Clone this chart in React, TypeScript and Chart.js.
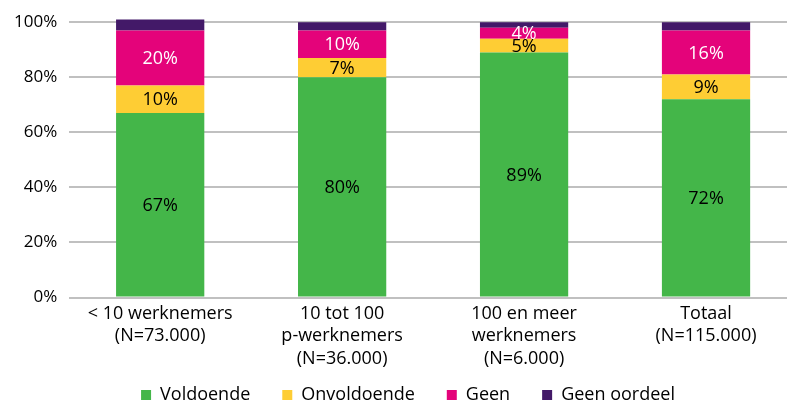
import React, { useEffect, useRef } from "react";
import { Chart, registerables } from "chart.js";

Chart.register(...registerables);

const categories: string[][] = [
  ["< 10 werknemers", "(N=73.000)"],
  ["10 tot 100", "p-werknemers", "(N=36.000)"],
  ["100 en meer", "werknemers", "(N=6.000)"],
  ["Totaal", "(N=115.000)"],
];
const voldoende = [67, 80, 89, 72];
const onvoldoende = [10, 7, 5, 9];
const geen = [20, 10, 4, 16];
const geenOordeel = [4, 3, 2, 3];
const yTicks = [0, 20, 40, 60, 80, 100];

const FONT = "'Open Sans', sans-serif";
const LEGEND_PAD = 32;

const segLabels = {
  id: "segLabels",
  afterInit(chart: any) {
    const lg = chart.legend;
    if (lg && !lg.__patched) {
      const origFit = lg.fit.bind(lg);
      lg.fit = function () {
        origFit();
        this.height -= 32;
      };
      const origDraw = lg.draw.bind(lg);
      lg.draw = function () {
        const t = this.top;
        const l = this.left;
        this.top = t - 21;
        this.left = l + 17;
        origDraw();
        this.top = t;
        this.left = l;
      };
      lg.__patched = true;
    }
  },
  afterDatasetsDraw(chart: any) {
    const ctx = chart.ctx;
    ctx.save();
    ctx.font = `18px ${FONT}`;
    ctx.textAlign = "center";
    ctx.textBaseline = "middle";
    chart.data.datasets.forEach((ds: any, i: number) => {
      if (i === 3) return;
      const meta = chart.getDatasetMeta(i);
      meta.data.forEach((bar: any, j: number) => {
        const p = bar.getProps(["x", "y", "base"], true);
        ctx.fillStyle = i === 2 ? "#ffffff" : "#000000";
        ctx.fillText(ds.data[j] + "%", p.x, (p.y + p.base) / 2 + 1);
      });
    });
    ctx.restore();
  },
};

export default function App() {
  const ref = useRef<HTMLCanvasElement>(null);
  useEffect(() => {
    if (!ref.current) return;
    const chart = new Chart(ref.current, {
      type: "bar",
      data: {
        labels: categories as any,
        datasets: [
          { label: "Voldoende", data: voldoende, backgroundColor: "#44B649" },
          { label: "Onvoldoende", data: onvoldoende, backgroundColor: "#FECD34" },
          { label: "Geen", data: geen, backgroundColor: "#E4037A" },
          { label: "Geen oordeel", data: geenOordeel, backgroundColor: "#431968" },
        ].map((d) => ({ ...d, barPercentage: 0.485, categoryPercentage: 1, clip: false as any, borderWidth: 0 })),
      },
      options: {
        animation: false,
        responsive: true,
        maintainAspectRatio: false,
        layout: { padding: { top: 13, right: 0, left: 2, bottom: 0 } },
        plugins: {
          legend: {
            position: "bottom",
            labels: {
              boxWidth: 10,
              boxHeight: 10,
              padding: LEGEND_PAD,
              color: "#000",
              font: { family: FONT, size: 18 },
            },
          },
          tooltip: { enabled: false },
        },
        scales: {
          x: {
            stacked: true,
            grid: { display: false, drawTicks: false },
            border: { display: false },
            ticks: { color: "#000", font: { family: FONT, size: 18, lineHeight: 1.25 }, padding: 5, maxRotation: 0, autoSkip: false },
          },
          y: {
            stacked: true,
            min: 0,
            max: 100,
            afterBuildTicks: (axis: any) => {
              axis.ticks = yTicks.map((v) => ({ value: v }));
            },
            grid: { color: "#C0C0C0", lineWidth: 2, drawTicks: false },
            border: { display: false },
            ticks: {
              color: "#000",
              font: { family: FONT, size: 17 },
              padding: 12,
              callback: (v: any) => v + "%",
            },
          },
        },
      },
      plugins: [segLabels],
    });
    return () => chart.destroy();
  }, []);
  return (
    <div style={{ position: "fixed", left: 0, top: 0, width: 787, height: 403, overflow: "hidden", background: "#fff" }}>
      <div style={{ position: "relative", width: 797, height: 403 }}>
        <canvas ref={ref} />
      </div>
    </div>
  );
}
